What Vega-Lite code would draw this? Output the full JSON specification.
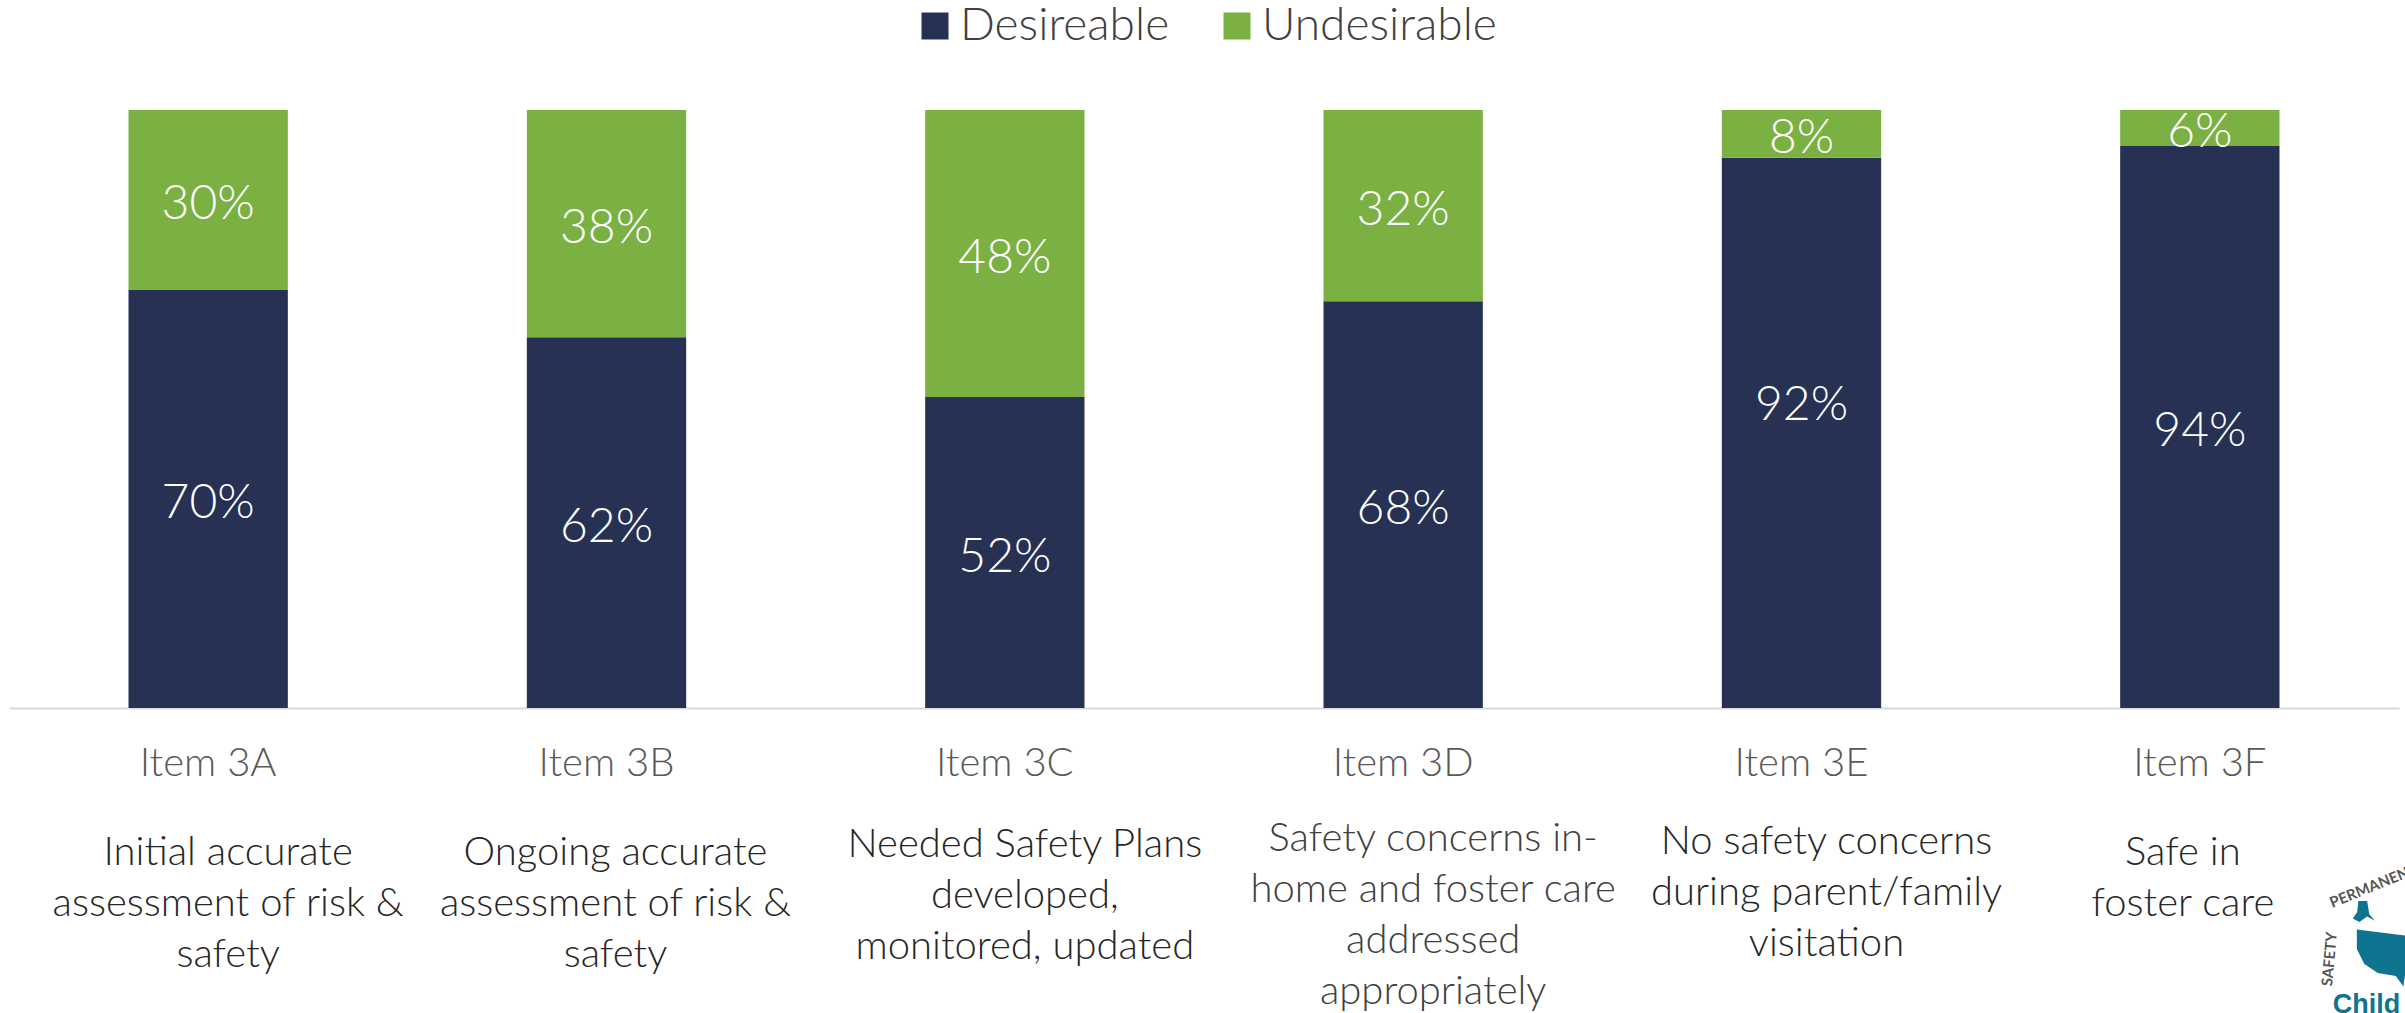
{
  "$schema": "https://vega.github.io/schema/vega-lite/v6.json",
  "width": 2390,
  "height": 598,
  "padding": {"left": 9, "top": 110, "right": 6, "bottom": 305},
  "autosize": {"type": "none"},
  "background": "white",
  "config": {"view": {"stroke": null}, "font": "Lato"},
  "datasets": {
    "results": [
      {"item": "Item 3A", "outcome": "Desireable", "share": 0.70},
      {"item": "Item 3A", "outcome": "Undesirable", "share": 0.30},
      {"item": "Item 3B", "outcome": "Desireable", "share": 0.62},
      {"item": "Item 3B", "outcome": "Undesirable", "share": 0.38},
      {"item": "Item 3C", "outcome": "Desireable", "share": 0.52},
      {"item": "Item 3C", "outcome": "Undesirable", "share": 0.48},
      {"item": "Item 3D", "outcome": "Desireable", "share": 0.68},
      {"item": "Item 3D", "outcome": "Undesirable", "share": 0.32},
      {"item": "Item 3E", "outcome": "Desireable", "share": 0.92},
      {"item": "Item 3E", "outcome": "Undesirable", "share": 0.08},
      {"item": "Item 3F", "outcome": "Desireable", "share": 0.94},
      {"item": "Item 3F", "outcome": "Undesirable", "share": 0.06}
    ],
    "descriptions": [
      {"item": "Item 3A", "text": ["Initial accurate", "assessment of risk &", "safety"]},
      {"item": "Item 3B", "text": ["Ongoing accurate", "assessment of risk &", "safety"]},
      {"item": "Item 3C", "text": ["Needed Safety Plans", "developed,", "monitored, updated"]},
      {"item": "Item 3D", "text": ["Safety concerns in-", "home and foster care", "addressed", "appropriately"]},
      {"item": "Item 3E", "text": ["No safety concerns", "during parent/family", "visitation"]},
      {"item": "Item 3F", "text": ["Safe in", "foster care"]}
    ]
  },
  "layer": [
    {
      "data": {"name": "results"},
      "mark": {"type": "bar"},
      "encoding": {
        "x": {
          "field": "item", "type": "nominal", "title": null,
          "scale": {"paddingInner": 0.6, "paddingOuter": 0.3},
          "axis": {
            "labelAngle": 0, "labelFontSize": 40, "labelColor": "#595959",
            "labelPadding": 35, "labelFontWeight": 300,
            "ticks": false, "domainColor": "#d9d9d9", "domainWidth": 2
          }
        },
        "y": {
          "field": "share", "type": "quantitative", "stack": "zero",
          "scale": {"domain": [0, 1]}, "axis": null
        },
        "color": {
          "field": "outcome", "type": "nominal", "title": null,
          "scale": {"domain": ["Desireable", "Undesirable"], "range": ["#263154", "#7ab142"]},
          "legend": {
            "orient": "none", "direction": "horizontal", "legendX": 903, "legendY": -107,
            "symbolType": "square", "symbolSize": 729, "symbolStrokeWidth": 0,
            "labelFontSize": 46, "labelFontWeight": 300, "labelColor": "#404040",
            "labelOffset": 2, "columnPadding": 44, "labelLimit": 400
          }
        },
        "order": {"field": "outcome", "sort": "ascending"}
      }
    },
    {
      "data": {"name": "results"},
      "mark": {"type": "text", "color": "white", "fontSize": 48, "fontWeight": 300, "baseline": "middle", "dy": 5},
      "encoding": {
        "x": {"field": "item", "type": "nominal"},
        "y": {"field": "share", "type": "quantitative", "stack": "zero", "bandPosition": 0.5},
        "text": {"field": "share", "type": "quantitative", "format": ".0%"},
        "opacity": {"condition": {"test": "datum.item === 'Item 3E' && datum.outcome === 'Desireable'", "value": 0}, "value": 1},
        "order": {"field": "outcome", "sort": "ascending"}
      }
    },
    {
      "data": {"name": "results"},
      "transform": [{"filter": "datum.item === 'Item 3E' && datum.outcome === 'Desireable'"}],
      "mark": {"type": "text", "color": "white", "fontSize": 48, "fontWeight": 300, "baseline": "middle", "dy": -27},
      "encoding": {
        "x": {"field": "item", "type": "nominal"},
        "y": {"field": "share", "type": "quantitative", "stack": "zero", "bandPosition": 0.5},
        "text": {"field": "share", "type": "quantitative", "format": ".0%"}
      }
    },
    {
      "data": {"name": "descriptions"},
      "transform": [{"filter": "datum.item === 'Item 3A'"}],
      "mark": {"type": "text", "color": "#262626", "fontSize": 40, "fontWeight": 300, "lineHeight": 51, "baseline": "alphabetic", "dx": 20, "dy": 157},
      "encoding": {"x": {"field": "item", "type": "nominal"}, "y": {"datum": 0}, "text": {"field": "text"}}
    },
    {
      "data": {"name": "descriptions"},
      "transform": [{"filter": "datum.item === 'Item 3B'"}],
      "mark": {"type": "text", "color": "#262626", "fontSize": 40, "fontWeight": 300, "lineHeight": 51, "baseline": "alphabetic", "dx": 9, "dy": 157},
      "encoding": {"x": {"field": "item", "type": "nominal"}, "y": {"datum": 0}, "text": {"field": "text"}}
    },
    {
      "data": {"name": "descriptions"},
      "transform": [{"filter": "datum.item === 'Item 3C'"}],
      "mark": {"type": "text", "color": "#262626", "fontSize": 40, "fontWeight": 300, "lineHeight": 51, "baseline": "alphabetic", "dx": 20, "dy": 149},
      "encoding": {"x": {"field": "item", "type": "nominal"}, "y": {"datum": 0}, "text": {"field": "text"}}
    },
    {
      "data": {"name": "descriptions"},
      "transform": [{"filter": "datum.item === 'Item 3D'"}],
      "mark": {"type": "text", "color": "#404040", "fontSize": 40, "fontWeight": 300, "lineHeight": 51, "baseline": "alphabetic", "dx": 30, "dy": 143},
      "encoding": {"x": {"field": "item", "type": "nominal"}, "y": {"datum": 0}, "text": {"field": "text"}}
    },
    {
      "data": {"name": "descriptions"},
      "transform": [{"filter": "datum.item === 'Item 3E'"}],
      "mark": {"type": "text", "color": "#262626", "fontSize": 40, "fontWeight": 300, "lineHeight": 51, "baseline": "alphabetic", "dx": 25, "dy": 146},
      "encoding": {"x": {"field": "item", "type": "nominal"}, "y": {"datum": 0}, "text": {"field": "text"}}
    },
    {
      "data": {"name": "descriptions"},
      "transform": [{"filter": "datum.item === 'Item 3F'"}],
      "mark": {"type": "text", "color": "#262626", "fontSize": 40, "fontWeight": 300, "lineHeight": 51, "baseline": "alphabetic", "dx": -17, "dy": 157},
      "encoding": {"x": {"field": "item", "type": "nominal"}, "y": {"datum": 0}, "text": {"field": "text"}}
    },
    {
      "data": {"values": [{"item": "Item 3F", "label": "Child"}]},
      "mark": {"type": "text", "color": "#0f7490", "fontSize": 27, "fontWeight": "bold", "font": "Liberation Sans", "align": "left", "baseline": "alphabetic", "dx": 133, "dy": 305},
      "encoding": {"x": {"field": "item", "type": "nominal"}, "y": {"datum": 0}, "text": {"field": "label"}}
    },
    {
      "data": {"values": [{"item": "Item 3F", "label": "SAFETY"}]},
      "mark": {"type": "text", "color": "#555555", "fontSize": 15, "fontWeight": "bold", "angle": 275, "align": "left", "baseline": "alphabetic", "dx": -266, "dy": 156},
      "encoding": {"x": {"field": "item", "type": "nominal"}, "y": {"datum": 0}, "text": {"field": "label"}}
    },
    {
      "data": {"values": [{"item": "Item 3F", "label": "PERMANENCE"}]},
      "mark": {"type": "text", "color": "#555555", "fontSize": 15, "fontWeight": "bold", "angle": 338, "align": "left", "baseline": "alphabetic", "dx": 48, "dy": 235},
      "encoding": {"x": {"field": "item", "type": "nominal"}, "y": {"datum": 0}, "text": {"field": "label"}}
    },
    {
      "data": {"values": [{"item": "Item 3F", "region": "contiguous states"}]},
      "mark": {
        "type": "point", "filled": true, "color": "#0f7490", "opacity": 1, "size": 3600,
        "shape": "M-1 -0.95 L0.2 -0.8 L1 -0.7 L1 0.3 L0.6 0.6 L0.55 0.95 L0.3 0.6 L-0.3 0.5 L-0.75 0.2 L-1 -0.3 Z",
        "xOffset": 187, "yOffset": 250
      },
      "encoding": {"x": {"field": "item", "type": "nominal"}, "y": {"datum": 0}}
    },
    {
      "data": {"values": [{"item": "Item 3F", "region": "Alaska"}]},
      "mark": {
        "type": "point", "filled": true, "color": "#0f7490", "opacity": 1, "size": 484,
        "shape": "M-0.5 -1 L0.3 -1 L0.5 0.2 L1 0.8 L0.3 0.4 L-0.4 0.9 L-1 0.6 L-0.6 0 Z",
        "xOffset": 164, "yOffset": 204
      },
      "encoding": {"x": {"field": "item", "type": "nominal"}, "y": {"datum": 0}}
    }
  ]
}
